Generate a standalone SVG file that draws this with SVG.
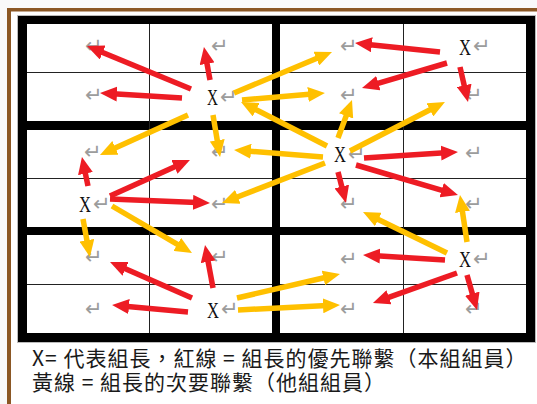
<svg xmlns="http://www.w3.org/2000/svg" width="537" height="404" viewBox="0 0 537 404">
<style>
.pm{font-family:"DejaVu Sans",sans-serif;font-size:21px;fill:#9c9c9c}
.x{font-family:"Liberation Serif",serif;font-size:24px;fill:#111}
.r{stroke:#ED1C24;stroke-width:5.5;fill:none;marker-end:url(#hr)}
.y{stroke:#FFC000;stroke-width:5.5;fill:none;marker-end:url(#hy)}
.thin{stroke:#222;stroke-width:1}
.cap{font-family:"Noto Sans CJK TC","Noto Sans CJK SC",sans-serif;font-size:21px;letter-spacing:1px;fill:#1a1a1a}
</style>
<defs>
<marker id="hr" markerUnits="userSpaceOnUse" viewBox="0 0 17 15" markerWidth="17" markerHeight="15" refX="4" refY="7.5" orient="auto"><path d="M0,0 L17,7.5 L0,15 z" fill="#ED1C24"/></marker>
<marker id="hy" markerUnits="userSpaceOnUse" viewBox="0 0 17 15" markerWidth="17" markerHeight="15" refX="4" refY="7.5" orient="auto"><path d="M0,0 L17,7.5 L0,15 z" fill="#FFC000"/></marker>
</defs>
<rect width="537" height="404" fill="#f9f9f9"/>
<rect x="11" y="11" width="526" height="393" fill="#fff"/>
<rect x="7" y="8" width="530" height="3.5" fill="#8B5724"/>
<rect x="7" y="8" width="4" height="396" fill="#8B5724"/>
<g id="table">
<rect x="17.5" y="15.5" width="518" height="327" fill="#000" stroke="#bbb" stroke-width="1"/>
<g fill="#fff">
<rect x="27" y="24" width="245" height="97"/><rect x="280" y="24" width="246" height="97"/>
<rect x="27" y="130" width="245" height="97"/><rect x="280" y="130" width="246" height="97"/>
<rect x="27" y="235" width="245" height="98"/><rect x="280" y="235" width="246" height="98"/>
</g>
<g class="thin">
<line x1="27" y1="72.5" x2="272" y2="72.5"/><line x1="280" y1="72.5" x2="526" y2="72.5"/>
<line x1="27" y1="178.5" x2="272" y2="178.5"/><line x1="280" y1="178.5" x2="526" y2="178.5"/>
<line x1="27" y1="284.5" x2="272" y2="284.5"/><line x1="280" y1="284.5" x2="526" y2="284.5"/>
<line x1="149.5" y1="24" x2="149.5" y2="333"/><line x1="403.5" y1="24" x2="403.5" y2="333"/>
</g>
</g>
<g id="marks">
<text id="m11" class="pm" x="85" y="53">↵</text>
<text id="m12" class="pm" x="211" y="53">↵</text>
<text id="m13" class="pm" x="340" y="53">↵</text>
<text id="m21" class="pm" x="85" y="102">↵</text>
<text id="m23" class="pm" x="340" y="102">↵</text>
<text id="m24" class="pm" x="465" y="102">↵</text>
<text id="m31" class="pm" x="84" y="159">↵</text>
<text id="m32" class="pm" x="211" y="159">↵</text>
<text id="m34" class="pm" x="465" y="160">↵</text>
<text id="m42" class="pm" x="211" y="211">↵</text>
<text id="m43" class="pm" x="340" y="211">↵</text>
<text id="m44" class="pm" x="465" y="211">↵</text>
<text id="m51" class="pm" x="85" y="264">↵</text>
<text id="m52" class="pm" x="211" y="264">↵</text>
<text id="m53" class="pm" x="340" y="266">↵</text>
<text id="m61" class="pm" x="85" y="316">↵</text>
<text id="m63" class="pm" x="340" y="316">↵</text>
<text id="m64" class="pm" x="465" y="316">↵</text>
</g>
<g id="leader1"><text class="x" x="207" y="105" textLength="11" lengthAdjust="spacingAndGlyphs">X</text><text class="pm" x="220" y="104">↵</text></g>
<g id="leader2"><text class="x" x="334" y="162" textLength="12" lengthAdjust="spacingAndGlyphs">X</text><text class="pm" x="348" y="161">↵</text></g>
<g id="leader3"><text class="x" x="459" y="55" textLength="12" lengthAdjust="spacingAndGlyphs">X</text><text class="pm" x="473" y="53">↵</text></g>
<g id="leader4"><text class="x" x="79" y="212" textLength="12" lengthAdjust="spacingAndGlyphs">X</text><text class="pm" x="93" y="211">↵</text></g>
<g id="leader5"><text class="x" x="207" y="318" textLength="12" lengthAdjust="spacingAndGlyphs">X</text><text class="pm" x="221" y="316">↵</text></g>
<g id="leader6"><text class="x" x="459" y="267" textLength="12" lengthAdjust="spacingAndGlyphs">X</text><text class="pm" x="473" y="266">↵</text></g>
<g id="connectors">
<line class="r" x1="191" y1="89" x2="99" y2="51"/>
<line class="r" x1="210" y1="80" x2="206.3" y2="59.8"/>
<line class="r" x1="182" y1="98" x2="113" y2="93.8"/>
<line class="y" x1="188" y1="115" x2="111.8" y2="149.6"/>
<line class="y" x1="213" y1="115" x2="217.9" y2="144.2"/>
<line class="y" x1="234" y1="93" x2="320" y2="57"/>
<line class="y" x1="242" y1="100" x2="312" y2="94.1"/>
<line class="y" x1="327" y1="146" x2="252.6" y2="107.9"/>
<line class="y" x1="323" y1="157" x2="247" y2="151"/>
<line class="y" x1="325" y1="163" x2="234.1" y2="198.3"/>
<line class="y" x1="338" y1="138" x2="347.5" y2="112.2"/>
<line class="y" x1="350" y1="151" x2="433.4" y2="108"/>
<line class="r" x1="364" y1="158" x2="445" y2="152.8"/>
<line class="r" x1="356" y1="165" x2="445.5" y2="191.3"/>
<line class="r" x1="338" y1="172" x2="342.75" y2="190.4"/>
<line class="r" x1="440" y1="52" x2="367.9" y2="44.4"/>
<line class="r" x1="447" y1="63" x2="374.5" y2="84.3"/>
<line class="r" x1="460" y1="67" x2="465.1" y2="89.3"/>
<line class="r" x1="88" y1="186" x2="84.6" y2="169.7"/>
<line class="r" x1="110" y1="196" x2="178.1" y2="165.3"/>
<line class="r" x1="110" y1="199" x2="197" y2="202.5"/>
<line class="y" x1="83" y1="219" x2="87.6" y2="244.2"/>
<line class="y" x1="112" y1="206" x2="180.8" y2="246.4"/>
<line class="r" x1="213" y1="288" x2="207.4" y2="257.8"/>
<line class="r" x1="192" y1="298" x2="121.9" y2="267.2"/>
<line class="r" x1="188" y1="312" x2="125" y2="306.2"/>
<line class="y" x1="237" y1="298" x2="327.3" y2="277"/>
<line class="y" x1="238" y1="310" x2="327" y2="305.6"/>
<line class="y" x1="467" y1="242" x2="461.9" y2="207.9"/>
<line class="y" x1="447" y1="253" x2="374.7" y2="217.7"/>
<line class="r" x1="445" y1="260" x2="376" y2="255.8"/>
<line class="r" x1="457" y1="273" x2="385.2" y2="298.6"/>
<line class="r" x1="467" y1="275" x2="473.4" y2="297.5"/>
</g>
<g id="caption">
<text class="cap" x="32" y="366">X= 代表組長，紅線 = 組長的優先聯繫（本組組員）</text>
<text class="cap" x="32" y="390">黃線 = 組長的次要聯繫（他組組員）</text>
</g>
</svg>
